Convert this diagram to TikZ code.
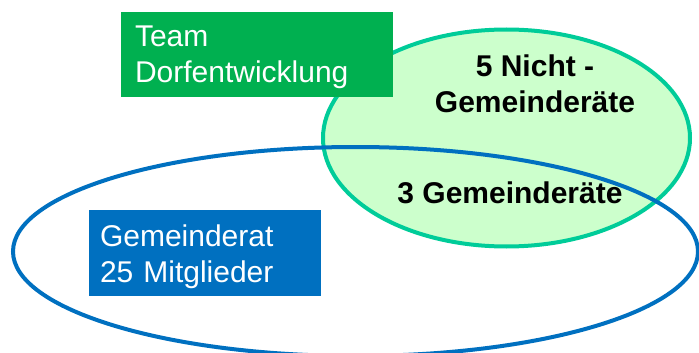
\documentclass[tikz,border=0pt]{standalone}
\usepackage{fontspec}
\setmainfont{Liberation Sans}
\usepackage{xcolor}
\definecolor{teamGreen}{HTML}{00B050}
\definecolor{teamLine}{HTML}{00CC99}
\definecolor{teamFill}{HTML}{CCFFCC}
\definecolor{councilBlue}{HTML}{0070C0}
\tikzset{
  labelbox/.style={rectangle, inner ysep=0pt, text=white, align=left,
    font=\fontsize{30}{36}\selectfont},
  setline/.style={line width=4pt},
  countlabel/.style={font=\fontsize{30}{36}\selectfont\bfseries, align=center, inner sep=0pt}
}

\begin{document}
\begin{tikzpicture}[x=1pt, y=-1pt]
\useasboundingbox (0,0) rectangle (699,353);
\clip (0,0) rectangle (699,353);
% ---------------- team set (upper right) ----------------
\draw[setline, draw=teamLine, fill=teamFill] (506.5,138) ellipse [x radius=183.5, y radius=108.5];
\node[labelbox, fill=teamGreen, inner xsep=14pt, text width=244pt,
  minimum width=272pt, minimum height=85pt, text height=35pt, text depth=50pt]
  (team) at (257,54.5) {Team\\Dorfentwicklung};
% ---------------- council set (bottom) ----------------
\draw[setline, draw=councilBlue] (355.5,251.5) ellipse [x radius=342.5, y radius=104.5];
\node[labelbox, fill=councilBlue, inner xsep=11pt, text width=210pt,
  minimum width=232pt, minimum height=86pt, text height=36pt, text depth=50pt]
  (council) at (205,253) {Gemeinderat\\25 Mitglieder};
% counts: only in team / in both (base = last line)
\node[countlabel, anchor=base] (others) at (535,113) {5 Nicht -\\Gemeinderäte};
\node[countlabel, anchor=base] (both) at (510,203) {3 Gemeinderäte};
\end{tikzpicture}
\end{document}
